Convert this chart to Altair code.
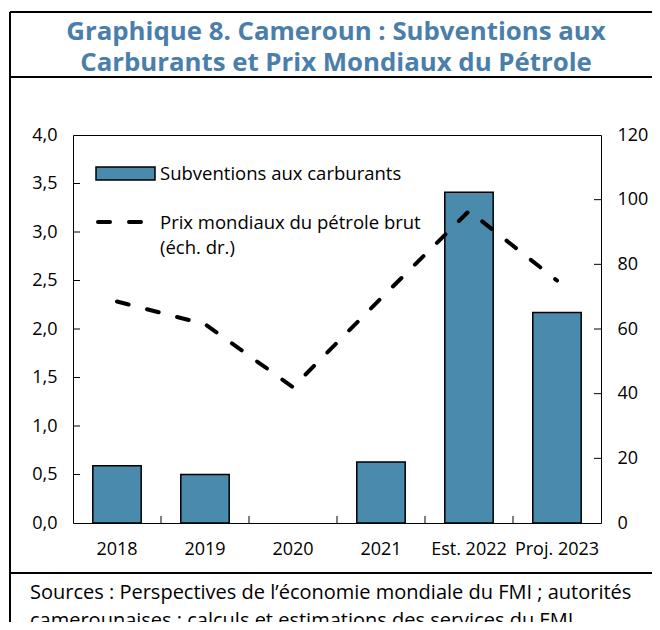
import altair as alt
import pandas as pd

# ---- data ----
categories = ["2018", "2019", "2020", "2021", "Est. 2022", "Proj. 2023"]
subsidies = [0.59, 0.50, 0.0, 0.63, 3.41, 2.17]          # left axis
oil_price = [68.5, 61.5, 42.0, 69.5, 96.5, 75.0]         # right axis
left_ticks = [0.5, 1.0, 1.5, 2.0, 2.5, 3.0, 3.5]
left_labels = [0.0, 0.5, 1.0, 1.5, 2.0, 2.5, 3.0, 3.5, 4.0]
right_ticks = [20, 40, 60, 80, 100]
right_labels = [0, 20, 40, 60, 80, 100, 120]
legend_labels = ["Subventions aux carburants", "Prix mondiaux du pétrole brut", "(éch. dr.)"]
title_lines = ["Graphique 8. Cameroun : Subventions aux",
               "Carburants et Prix Mondiaux du Pétrole"]
source_lines = ["Sources : Perspectives de l’économie mondiale du FMI ; autorités",
                "camerounaises : calculs et estimations des services du FMI."]

FONT = "Open Sans"
BAR = "#4A8BAD"
TITLE_C = "#4A7EAB"
W, H = 528, 388
STEP = W / len(categories)

df = pd.DataFrame({"cat": categories, "sub": subsidies, "oil": oil_price})
one = pd.DataFrame({"d": [0]})

xenc = alt.X(
    "cat:N", sort=categories,
    scale=alt.Scale(paddingInner=0.45, paddingOuter=0.225),
    axis=alt.Axis(title=None, labelAngle=0, domain=False, ticks=False,
                  labelPadding=17, labelFontSize=18, labelColor="black",
                  labelFont=FONT),
)

lscale = alt.Scale(domain=[0, 4], nice=False, zero=True)
rscale = alt.Scale(domain=[0, 120], nice=False, zero=True)
laxis = alt.Axis(title=None, orient="left", values=left_labels,
                 labelExpr="replace(format(datum.value, '.1f'), '.', ',')",
                 domain=False, ticks=False, grid=False, labelPadding=16,
                 labelFontSize=18, labelColor="black", labelFont=FONT)
raxis = alt.Axis(title=None, orient="right", values=right_labels,
                 format="d", domain=False, ticks=False, grid=False,
                 labelPadding=16, labelFontSize=18, labelColor="black",
                 labelFont=FONT)

bars = alt.Chart(df).transform_filter("datum.sub > 0").mark_bar(
    color=BAR, stroke="black", strokeWidth=1.5
).encode(x=xenc, y=alt.Y("sub:Q", scale=lscale, axis=laxis))

lticks = alt.Chart(pd.DataFrame({"sub": left_ticks})).mark_rule(
    color="black", strokeWidth=1
).encode(y=alt.Y("sub:Q", scale=lscale, axis=laxis), x=alt.value(0), x2=alt.value(7))

cticks = alt.Chart(pd.DataFrame({"cat": categories[1:]})).mark_rule(
    color="black", strokeWidth=1, xOffset=-STEP / 2
).encode(x=xenc, y=alt.value(H - 7), y2=alt.value(H))

line = alt.Chart(df).mark_line(
    color="black", strokeWidth=4, strokeDash=[12, 19], strokeCap="round"
).encode(x=xenc, y=alt.Y("oil:Q", scale=rscale, axis=raxis))

rticks = alt.Chart(pd.DataFrame({"oil": right_ticks})).mark_rule(
    color="black", strokeWidth=1
).encode(y=alt.Y("oil:Q", scale=rscale, axis=raxis), x=alt.value(W - 7), x2=alt.value(W))

left = alt.layer(bars, lticks, cticks)
right = alt.layer(line, rticks)

# ---- legend ----
leg_rect = alt.Chart(one).mark_rect(fill=BAR, stroke="black", strokeWidth=1.5).encode(
    x=alt.value(23), x2=alt.value(82), y=alt.value(32), y2=alt.value(45))
leg_line = alt.Chart(one).mark_rule(
    color="black", strokeWidth=4, strokeDash=[12, 19], strokeCap="round"
).encode(x=alt.value(25), x2=alt.value(70), y=alt.value(87))
leg_texts = []
for lab, yy in zip(legend_labels, [39, 88, 113]):
    leg_texts.append(
        alt.Chart(pd.DataFrame({"t": [lab]})).mark_text(
            align="left", baseline="middle", fontSize=18.5, font=FONT, color="black"
        ).encode(x=alt.value(87), y=alt.value(yy), text="t:N"))

# ---- title ----
title_texts = []
for lab, yy in zip(title_lines, [-103, -72]):
    title_texts.append(
        alt.Chart(pd.DataFrame({"t": [lab]})).mark_text(
            align="center", baseline="middle", fontSize=25.8, font=FONT,
            fontWeight="bold", color=TITLE_C
        ).encode(x=alt.value(263), y=alt.value(yy), text="t:N"))

# ---- frame & sources ----
def hrule(y, x1=-63, x2=600, w=2):
    return alt.Chart(one).mark_rule(color="black", strokeWidth=w).encode(
        x=alt.value(x1), x2=alt.value(x2), y=alt.value(y))

frame = [
    alt.Chart(one).mark_rule(color="black", strokeWidth=2).encode(
        x=alt.value(-63), y=alt.value(-123), y2=alt.value(510)),
    hrule(-123), hrule(-58), hrule(438),
]
src_texts = []
for lab, yy in zip(source_lines, [458, 486]):
    src_texts.append(
        alt.Chart(pd.DataFrame({"t": [lab]})).mark_text(
            align="left", baseline="middle", fontSize=20, font=FONT, color="black"
        ).encode(x=alt.value(-43), y=alt.value(yy), text="t:N"))

chart = alt.layer(
    left, right, leg_rect, leg_line, *leg_texts, *title_texts, *frame, *src_texts
).resolve_scale(y="independent").properties(
    width=W, height=H,
    autosize=alt.AutoSizeParams(type="none"),
    padding={"left": 65, "top": 127, "right": 51, "bottom": 99},
    background="white",
).configure_view(stroke="black", strokeWidth=1)

chart.save("out.html", embed_options={"renderer": "svg", "actions": False})
